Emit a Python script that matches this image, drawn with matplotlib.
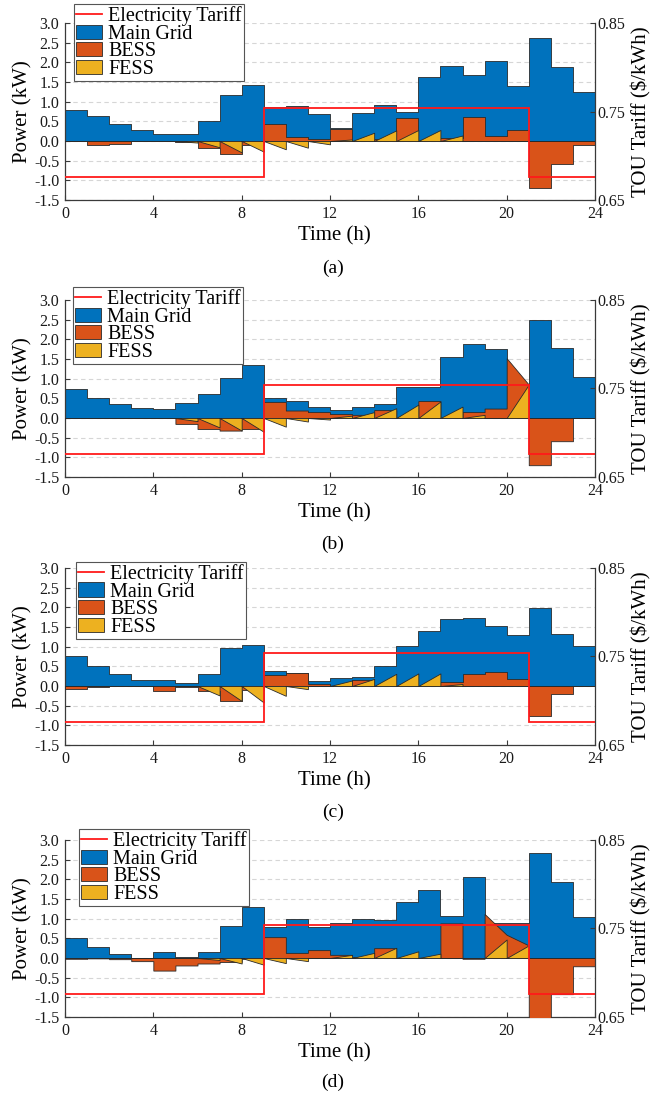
import numpy as np
import matplotlib
matplotlib.use("Agg")
import matplotlib.pyplot as plt
from matplotlib.patches import Patch
from matplotlib.lines import Line2D
from matplotlib.ticker import FormatStrFormatter

plt.rcParams['font.family'] = ['Liberation Serif', 'DejaVu Serif']
plt.rcParams['axes.unicode_minus'] = False

# ---------------- data (hourly values) ----------------
# top of the Main Grid area (kW)
grid_a = [0.79, 0.64, 0.43, 0.27, 0.17, 0.19, 0.50, 1.18, 1.42, 0.86, 0.88, 0.68,
          0.34, 0.70, 0.92, 0.74, 1.63, 1.90, 1.67, 2.03, 1.41, 2.61, 1.88, 1.24]
bess_a = [0.00, -0.10, -0.085, -0.01, 0.00, -0.02, -0.17, -0.32, -0.10, 0.42, 0.11, 0.06,
          0.30, 0.00, 0.05, 0.59, 0.00, 0.08, 0.61, 0.12, 0.29, -1.20, -0.59, -0.10]
fess_a = [0.00, 0.00, 0.00, 0.00, 0.00, -0.04, -0.16, -0.29, -0.27, -0.21, -0.17, -0.085,
          0.04, 0.21, 0.27, 0.28, 0.28, 0.14, 0.00, 0.00, 0.00, 0.00, 0.00, 0.00]
bess_end_a = {}

grid_b = [0.73, 0.51, 0.36, 0.25, 0.22, 0.38, 0.61, 1.01, 1.35, 0.52, 0.42, 0.27,
          0.21, 0.29, 0.35, 0.79, 0.79, 1.55, 1.88, 1.75, 0.00, 2.49, 1.78, 1.04]
bess_b = [0.00, 0.00, 0.00, 0.00, 0.00, -0.15, -0.28, -0.32, -0.28, 0.41, 0.19, 0.15,
          0.10, 0.08, 0.20, 0.00, 0.43, 0.00, 0.15, 0.24, 1.52, -1.20, -0.59, 0.00]
fess_b = [0.00, 0.00, 0.00, 0.00, 0.00, -0.08, -0.24, -0.32, -0.35, -0.22, -0.09, -0.04,
          0.06, 0.15, 0.25, 0.34, 0.42, 0.29, 0.08, 0.00, 0.85, 0.00, 0.00, 0.00]
bess_end_b = {20: 0.85}

grid_c = [0.77, 0.50, 0.30, 0.14, 0.16, 0.07, 0.31, 0.97, 1.03, 0.39, 0.33, 0.12,
          0.20, 0.24, 0.51, 1.02, 1.41, 1.71, 1.73, 1.53, 1.29, 1.98, 1.32, 1.02]
bess_c = [-0.08, -0.02, 0.00, 0.00, -0.12, -0.03, -0.12, -0.39, -0.10, 0.29, 0.33, 0.06,
          0.00, 0.15, 0.00, 0.00, 0.00, 0.11, 0.31, 0.36, 0.18, -0.76, -0.20, 0.00]
fess_c = [0.00, 0.00, 0.00, 0.00, 0.00, 0.00, -0.24, -0.38, -0.42, -0.25, -0.08, 0.00,
          0.14, 0.18, 0.31, 0.32, 0.32, 0.05, 0.00, 0.00, 0.00, 0.00, 0.00, 0.00]
bess_end_c = {}

grid_d = [0.52, 0.27, 0.09, 0.01, 0.15, 0.02, 0.14, 0.81, 1.30, 0.80, 1.00, 0.79,
          0.88, 1.00, 0.97, 1.43, 1.72, 1.07, 2.06, 0.88, 0.88, 2.67, 1.94, 1.05]
bess_d = [-0.02, -0.01, -0.03, -0.08, -0.32, -0.19, -0.14, -0.10, -0.02, 0.53, 0.13, 0.20,
          0.08, 0.02, 0.25, 0.00, 0.00, 0.88, -0.02, 1.12, 0.59, -1.65, -0.92, -0.21]
fess_d = [0.00, 0.00, 0.00, 0.00, 0.00, 0.00, -0.05, -0.14, -0.17, -0.13, -0.08, 0.00,
          0.08, 0.13, 0.26, 0.17, 0.11, 0.00, 0.00, 0.47, 0.32, 0.00, 0.00, 0.00]
bess_end_d = {19: 0.59, 20: 0.32}

# TOU tariff ($/kWh)
tariff_edges = [0, 9, 21, 24]
tariff_vals = [0.676, 0.754, 0.676]

panel_labels = ['(a)', '(b)', '(c)', '(d)']
x_ticks = [0, 4, 8, 12, 16, 20, 24]

C_GRID = '#0072BD'
C_BESS = '#D95319'
C_FESS = '#EDB120'
EDGE = '#2a2a2a'


def hourly(start, end):
    start = np.asarray(start, float)
    end = np.asarray(end, float)
    n = len(start)
    t = np.column_stack([np.arange(n), np.arange(n) + 1]).ravel()
    y = np.column_stack([start, end]).ravel()
    return t, y


panels = [
    (grid_a, bess_a, fess_a, bess_end_a),
    (grid_b, bess_b, fess_b, bess_end_b),
    (grid_c, bess_c, fess_c, bess_end_c),
    (grid_d, bess_d, fess_d, bess_end_d),
]

fig = plt.figure(figsize=(6.71, 10.93), dpi=100)
H = 1093.0
W = 671.0
ax_left = 65 / W
ax_width = 530 / W
ax_bottoms_px = [200, 477, 745, 1017]
ax_h_px = 177
label_y_px = [268, 544, 812, 1082]
legend_anchor = [(0.017, 1.107), (0.015, 1.073), (0.021, 1.034), (0.026, 1.062)]

for i, (grid, bess, fess, bess_end) in enumerate(panels):
    bottom = (H - ax_bottoms_px[i]) / H
    ax = fig.add_axes([ax_left, bottom, ax_width, ax_h_px / H])
    ax2 = ax.twinx()

    # areas
    t, yg = hourly(grid, grid)
    ax.fill_between(t, 0, yg, facecolor=C_GRID, edgecolor=EDGE, linewidth=0.6, zorder=2)
    be = [bess_end.get(h, bess[h]) for h in range(len(bess))]
    t, yb = hourly(bess, be)
    ax.fill_between(t, 0, yb, facecolor=C_BESS, edgecolor=EDGE, linewidth=0.6, zorder=3)
    t, yf = hourly(np.zeros(len(fess)), fess)
    ax.fill_between(t, 0, yf, facecolor=C_FESS, edgecolor=EDGE, linewidth=0.6, zorder=4)

    ax.set_xlim(0, 24)
    ax.set_ylim(-1.5, 3.0)
    ax.set_xticks(x_ticks)
    ax.set_yticks(np.arange(-1.5, 3.01, 0.5))
    ax.yaxis.set_major_formatter(FormatStrFormatter('%.1f'))
    ax.grid(axis='y', linestyle=(0, (4, 3)), color='#d6d6d6', linewidth=0.8, zorder=0)
    ax.set_axisbelow(True)
    for s in ['top', 'right']:
        ax.spines[s].set_visible(False)
    for s in ['left', 'bottom']:
        ax.spines[s].set_color('#3a3a3a')
        ax.spines[s].set_linewidth(0.9)
    ax.tick_params(direction='in', length=3.5, width=0.8, colors='#3a3a3a',
                   labelcolor='#1a1a1a', labelsize=11.5)
    ax.tick_params(axis='y', pad=4)
    ax.tick_params(axis='x', pad=4)

    # tariff on right axis
    ax2.stairs(tariff_vals, tariff_edges, baseline=None, color='#ff1a1a', linewidth=1.3, zorder=5)
    ax2.set_ylim(0.65, 0.85)
    ax2.set_yticks([0.65, 0.75, 0.85])
    ax2.yaxis.set_major_formatter(FormatStrFormatter('%.2f'))
    for s in ['top', 'left', 'bottom']:
        ax2.spines[s].set_visible(False)
    ax2.spines['right'].set_color('#3a3a3a')
    ax2.spines['right'].set_linewidth(0.9)
    ax2.tick_params(direction='in', length=3.5, width=0.8, colors='#3a3a3a',
                    labelcolor='#1a1a1a', labelsize=11.5, pad=2)

    ax.set_xlabel('Time (h)', fontsize=15, va='center')
    ax.xaxis.set_label_coords(0.508, -0.2)
    ax.set_ylabel('Power (kW)', fontsize=15, va='center')
    ax.yaxis.set_label_coords(-0.08, 0.5)
    ax2.set_ylabel('TOU Tariff (\\$/kWh)', fontsize=15, va='center', rotation=90)
    ax2.yaxis.set_label_coords(1.087, 0.5)

    handles = [
        Line2D([0], [0], color='#ff1a1a', linewidth=1.3),
        Patch(facecolor=C_GRID, edgecolor=EDGE, linewidth=0.6),
        Patch(facecolor=C_BESS, edgecolor=EDGE, linewidth=0.6),
        Patch(facecolor=C_FESS, edgecolor=EDGE, linewidth=0.6),
    ]
    leg = ax2.legend(handles, ['Electricity Tariff', 'Main Grid', 'BESS', 'FESS'],
                     loc='upper left', bbox_to_anchor=legend_anchor[i],
                     fontsize=14.5, frameon=True, fancybox=False, framealpha=1,
                     edgecolor='#555555', borderpad=0.1, labelspacing=-0.07,
                     handlelength=1.3, handleheight=0.7, handletextpad=0.3,
                     borderaxespad=0)
    leg.get_frame().set_linewidth(0.8)
    leg.set_zorder(10)

    fig.text(333 / W, 1 - label_y_px[i] / H, panel_labels[i], ha='center', va='center',
             fontsize=14)

fig.savefig('out.png', dpi=100)
